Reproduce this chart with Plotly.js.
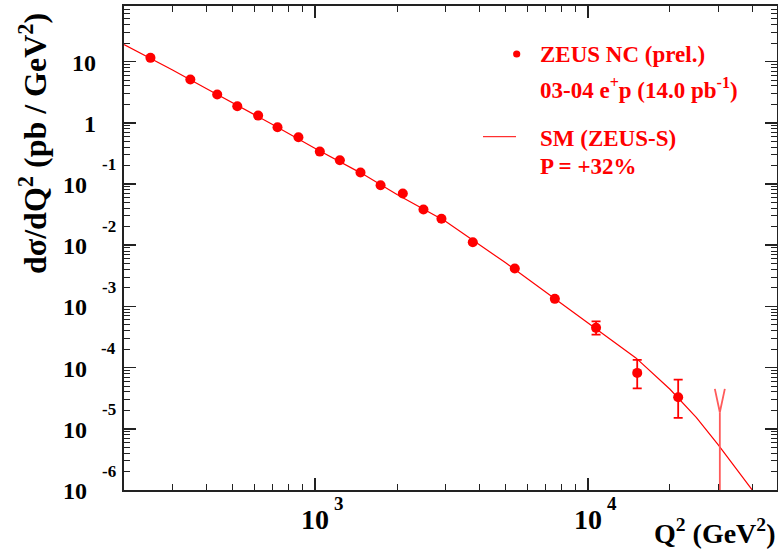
<!DOCTYPE html>
<html><head><meta charset="utf-8">
<script src="https://cdn.plot.ly/plotly-3.0.1.min.js"></script>
<style>html,body{margin:0;padding:0;background:#fff}#chart{width:778px;height:554px}</style>
</head><body><div id="chart"></div>
<script>
// ZEUS NC data points (Q2 in GeV^2, dsigma/dQ2 in pb/GeV^2)
const q2 = [250, 350, 439, 520, 620, 730, 871, 1043, 1235, 1470, 1741, 2100, 2500, 2910, 3790, 5400, 7570, 10720, 15170, 21430];
const dsig = [11.5, 5.08, 2.89, 1.86, 1.31, 0.844, 0.579, 0.338, 0.244, 0.1536, 0.0953, 0.0697, 0.0382, 0.0270, 0.01114, 0.00415, 0.001327, 4.46e-4, 8.19e-5, 3.27e-5];
const errUp = [null, null, null, null, null, null, null, null, null, null, null, null, null, null, null, null, null, 1.25e-4, 5.17e-5, 3.10e-5];
const errDown = [null, null, null, null, null, null, null, null, null, null, null, null, null, null, null, null, null, 1.0e-4, 3.6e-5, 1.76e-5];
// zero-event bin drawn as a limit
const limQ2 = 30450;
const limY = 1.86e-5;
const limTop = 4.49e-5;
const yFloor = 1e-7;
// Standard Model (ZEUS-S) curve
const smQ2 = [200, 250, 300, 400, 700, 1000, 1500, 2000, 3000, 5000, 7000, 10000, 15000, 20000, 25000, 30000, 40000, 45000];
const smY = [18.9, 11.4, 7.37, 3.64, 0.94, 0.383, 0.145, 0.0671, 0.0248, 0.00515, 0.00173, 5.5e-4, 1.44e-4, 4.43e-5, 1.52e-5, 5.5e-6, 1.05e-6, 5e-7];
// tick labels
const xTickVals = [1e3, 1e4];
const xTickBase = ['10', '10'];
const xTickExp = ['3', '4'];
const yTickVals = [10, 1, 1e-1, 1e-2, 1e-3, 1e-4, 1e-5, 1e-6];
const yTickBase = ['10', '1', '10', '10', '10', '10', '10', '10'];
const yTickExp = ['', '', '-1', '-2', '-3', '-4', '-5', '-6'];
// legend texts
const legendLines = ['ZEUS NC (prel.)', '03-04 e<sup>+</sup>p (14.0 pb<sup>-1</sup>)', 'SM (ZEUS-S)', 'P = +32%'];

const RED = '#ff0000';
const LIMRED = '#ff5a5a';
const FONT = 'Liberation Serif, Times New Roman, serif';

function minorVals(lo, hi) {
  const v = [];
  for (let e = lo; e <= hi; e++) for (let m = 2; m <= 9; m++) v.push(m * Math.pow(10, e));
  return v;
}

// arm half-width of the limit marker, in decades of Q2 (about 5 px)
const armDec = 0.0183;

const traces = [
  {x: smQ2, y: smY, type: 'scatter', mode: 'lines', line: {color: RED, width: 1.2}, hoverinfo: 'skip'},
  {x: [limQ2, limQ2], y: [limY, yFloor], type: 'scatter', mode: 'lines', line: {color: LIMRED, width: 1.8}, hoverinfo: 'skip'},
  {x: [limQ2 * Math.pow(10, -armDec), limQ2, limQ2 * Math.pow(10, armDec)], y: [limTop, limY, limTop],
   type: 'scatter', mode: 'lines', line: {color: LIMRED, width: 1.8}, hoverinfo: 'skip'},
  {x: q2, y: dsig, type: 'scatter', mode: 'markers',
   marker: {color: RED, size: 10},
   error_y: {type: 'data', symmetric: false, array: errUp, arrayminus: errDown, color: RED, thickness: 1.8, width: 4.5}}
];

const ann = [];
xTickVals.forEach((v, i) => {
  ann.push({xref: 'x', yref: 'paper', x: Math.log10(v), y: -0.061, text: xTickBase[i], showarrow: false,
    xanchor: 'center', yanchor: 'middle', font: {family: FONT, size: 28, color: '#000', weight: 'bold'}});
  ann.push({xref: 'x', yref: 'paper', x: Math.log10(v), y: -0.028, xshift: 17, text: xTickExp[i], showarrow: false,
    xanchor: 'left', yanchor: 'middle', font: {family: FONT, size: 19, color: '#000', weight: 'bold'}});
});
yTickVals.forEach((v, i) => {
  const hasExp = yTickExp[i] !== '';
  ann.push({xref: 'paper', yref: 'y', x: hasExp ? (89 - 124) / 653 : (98 - 124) / 653, y: Math.log10(v), yshift: -1,
    text: yTickBase[i], showarrow: false, xanchor: 'right', yanchor: 'middle',
    font: {family: FONT, size: 24, color: '#000', weight: 'bold'}});
  if (hasExp) ann.push({xref: 'paper', yref: 'y', x: (118 - 124) / 653, y: Math.log10(v), yshift: 19,
    text: yTickExp[i], showarrow: false, xanchor: 'right', yanchor: 'middle',
    font: {family: FONT, size: 17, color: '#000', weight: 'bold'}});
});
// axis titles
ann.push({xref: 'paper', yref: 'paper', x: (33 - 124) / 653, y: (490 - 144) / 484, textangle: -90,
  text: 'dσ/dQ<sup>2</sup> (pb / GeV<sup>2</sup>)', showarrow: false, xanchor: 'center', yanchor: 'middle',
  font: {family: FONT, size: 32, color: '#000', weight: 'bold'}});
ann.push({xref: 'paper', yref: 'paper', x: (777 - 124) / 653, y: (490 - 531) / 484,
  text: 'Q<sup>2</sup> (GeV<sup>2</sup>)', showarrow: false, xanchor: 'right', yanchor: 'middle',
  font: {family: FONT, size: 28, color: '#000', weight: 'bold'}});
// legend text
const legY = [54, 88, 138, 167];
legendLines.forEach((t, i) => {
  ann.push({xref: 'paper', yref: 'paper', x: (538 - 124) / 653, y: (490 - legY[i]) / 484, text: t, showarrow: false,
    xanchor: 'left', yanchor: 'middle', font: {family: FONT, size: 23, color: RED, weight: 'bold'}});
});

const shapes = [
  {type: 'circle', xref: 'paper', yref: 'paper', xsizemode: 'pixel', ysizemode: 'pixel',
   xanchor: (516.7 - 124) / 653, yanchor: (490 - 54) / 484, x0: -3.6, x1: 3.6, y0: -3.6, y1: 3.6,
   fillcolor: RED, line: {width: 0}},
  {type: 'line', xref: 'paper', yref: 'paper', x0: (483 - 124) / 653, x1: (516 - 124) / 653,
   y0: (490 - 136.7) / 484, y1: (490 - 136.7) / 484, line: {color: RED, width: 1}}
];

const axisCommon = {
  type: 'log', showgrid: false, zeroline: false, showline: true, linecolor: '#222', linewidth: 2,
  mirror: 'allticks', ticks: 'inside', ticklen: 12, tickwidth: 1.5, tickcolor: '#222',
  showticklabels: false, tickmode: 'array'
};

const layout = {
  width: 778, height: 554,
  margin: {l: 124, r: 1, t: 6, b: 64, pad: 0},
  paper_bgcolor: '#fff', plot_bgcolor: '#fff',
  showlegend: false,
  xaxis: Object.assign({}, axisCommon, {range: [2.301, 4.693], tickvals: xTickVals,
    minor: {tickmode: 'array', tickvals: minorVals(2, 4), ticks: 'inside', ticklen: 6, tickwidth: 1, tickcolor: '#222'}}),
  yaxis: Object.assign({}, axisCommon, {range: [-6, 1.908], tickvals: yTickVals,
    minor: {tickmode: 'array', tickvals: minorVals(-6, 1), ticks: 'inside', ticklen: 6, tickwidth: 1, tickcolor: '#222'}}),
  annotations: ann,
  shapes: shapes
};

Plotly.newPlot('chart', traces, layout, {displayModeBar: false, staticPlot: true});
</script>
</body></html>
